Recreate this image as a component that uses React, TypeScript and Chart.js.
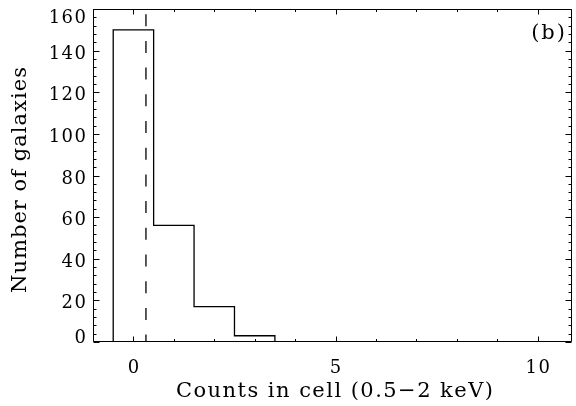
import React, { useEffect, useRef } from "react";
import { Chart, registerables } from "chart.js";

Chart.register(...registerables);

// ---- data ----
const binCenters = [0, 1, 2, 3];
const binCounts = [150, 56, 17, 3];
const dashedX = 0.31;
const dashedTop = 157.5;
const xMin = -1;
const xMax = 10.85;
const yMin = 0;
const yMax = 160;
const xMajorTicks = [0, 5, 10];
const xTickLabels = ["0", "5", "10"];
const yMajorTicks = [0, 20, 40, 60, 80, 100, 120, 140, 160];
const yTickLabels = ["0", "20", "40", "60", "80", "100", "120", "140", "160"];
const xTitle = "Counts in cell (0.5\u22122 keV)";
const yTitle = "Number of galaxies";
const panelLabel = "(b)";

const SERIF = "'DejaVu Serif', serif";

function spacedText(
  ctx: CanvasRenderingContext2D,
  text: string,
  x: number,
  y: number,
  spacing: number,
  align: "left" | "center" | "right"
) {
  const chars = Array.from(text);
  const widths = chars.map((c) => ctx.measureText(c).width);
  const total = widths.reduce((a, b) => a + b, 0) + spacing * (chars.length - 1);
  let start = align === "center" ? x - total / 2 : align === "right" ? x - total : x;
  ctx.textAlign = "left";
  chars.forEach((c, i) => {
    ctx.fillText(c, start, y);
    start += widths[i] + spacing;
  });
}

function spacingFor(ctx: CanvasRenderingContext2D, text: string, target: number) {
  const chars = Array.from(text);
  const sum = chars.reduce((a, c) => a + ctx.measureText(c).width, 0);
  return (target - sum) / Math.max(1, chars.length - 1);
}

const framePlugin = {
  id: "idlFrame",
  afterDatasetsDraw(chart: any) {
    const ctx: CanvasRenderingContext2D = chart.ctx;
    const xs = chart.scales.x;
    const ys = chart.scales.y;
    const { left, right, top, bottom } = chart.chartArea;
    const L = Math.round(left) + 0.5;
    const R = Math.round(right) - 0.5;
    const T = Math.round(top) + 0.5;
    const B = Math.round(bottom) - 0.5;
    ctx.save();
    ctx.strokeStyle = "#000";
    ctx.lineWidth = 1;
    ctx.beginPath();
    ctx.rect(L, T, R - L, B - T);
    ctx.stroke();

    // x ticks (bottom & top)
    ctx.beginPath();
    for (let v = Math.ceil(xMin); v <= Math.floor(xMax); v++) {
      const major = xMajorTicks.includes(v);
      const len = major ? 5 : 2.5;
      const px = Math.round(xs.getPixelForValue(v)) + 0.5;
      ctx.moveTo(px, B);
      ctx.lineTo(px, B - len);
      ctx.moveTo(px, T);
      ctx.lineTo(px, T + len);
    }
    // y ticks (left & right)
    for (let v = yMin; v <= yMax; v += 4) {
      const major = yMajorTicks.includes(v);
      const len = major ? 6 : 3;
      const py = Math.round(ys.getPixelForValue(v)) + 0.5;
      ctx.moveTo(L, py);
      ctx.lineTo(L + len, py);
      ctx.moveTo(R, py);
      ctx.lineTo(R - len, py);
    }
    ctx.stroke();

    ctx.fillStyle = "#000";
    ctx.textBaseline = "alphabetic";
    // tick labels
    ctx.font = `18px ${SERIF}`;
    xMajorTicks.forEach((v, i) => {
      const px = xs.getPixelForValue(v);
      spacedText(ctx, xTickLabels[i], px, 373, 1.5, "center");
    });
    yMajorTicks.forEach((v, i) => {
      const py = ys.getPixelForValue(v);
      const cy = Math.min(Math.max(py + 1.5, 16), 336);
      spacedText(ctx, yTickLabels[i], 86, cy + 6.5, 1.5, "right");
    });

    // titles
    ctx.font = `21px ${SERIF}`;
    const sx = spacingFor(ctx, xTitle, 317);
    spacedText(ctx, xTitle, 334.5, 397, sx, "center");

    ctx.save();
    ctx.translate(26, 180);
    ctx.rotate(-Math.PI / 2);
    const sy = spacingFor(ctx, yTitle, 226);
    spacedText(ctx, yTitle, 0, 0, sy, "center");
    ctx.restore();

    ctx.font = `21px ${SERIF}`;
    spacedText(ctx, panelLabel, 565, 39, 2, "right");
    ctx.restore();
  },
};

export default function App() {
  const canvasRef = useRef<HTMLCanvasElement | null>(null);

  useEffect(() => {
    if (!canvasRef.current) return;
    const stepPts: { x: number; y: number }[] = [];
    binCenters.forEach((c, i) => {
      const lo = c - 0.5;
      const hi = c + 0.5;
      if (i === 0) stepPts.push({ x: lo, y: 0 });
      stepPts.push({ x: lo, y: binCounts[i] });
      stepPts.push({ x: hi, y: binCounts[i] });
      if (i === binCenters.length - 1) stepPts.push({ x: hi, y: 0 });
    });

    const chart = new Chart(canvasRef.current, {
      type: "line",
      data: {
        datasets: [
          {
            data: stepPts,
            borderColor: "#000",
            borderWidth: 1.3,
            pointRadius: 0,
            fill: false,
            tension: 0,
          },
          {
            data: [
              { x: dashedX, y: dashedTop },
              { x: dashedX, y: yMin },
            ],
            borderColor: "#000",
            borderWidth: 1.3,
            borderDash: [12, 14.7],
            pointRadius: 0,
            fill: false,
          },
        ],
      },
      options: {
        animation: false,
        responsive: false,
        devicePixelRatio: 1,
        layout: { padding: { left: 93, top: 9, right: 4, bottom: 64 } },
        plugins: { legend: { display: false }, tooltip: { enabled: false } },
        scales: {
          x: { type: "linear", min: xMin, max: xMax, display: false },
          y: { type: "linear", min: yMin, max: yMax, display: false },
        },
      },
      plugins: [framePlugin],
    });
    return () => chart.destroy();
  }, []);

  return (
    <canvas
      ref={canvasRef}
      width={576}
      height={406}
      style={{ position: "absolute", left: 0, top: 0, width: 576, height: 406, background: "#fff" }}
    />
  );
}
